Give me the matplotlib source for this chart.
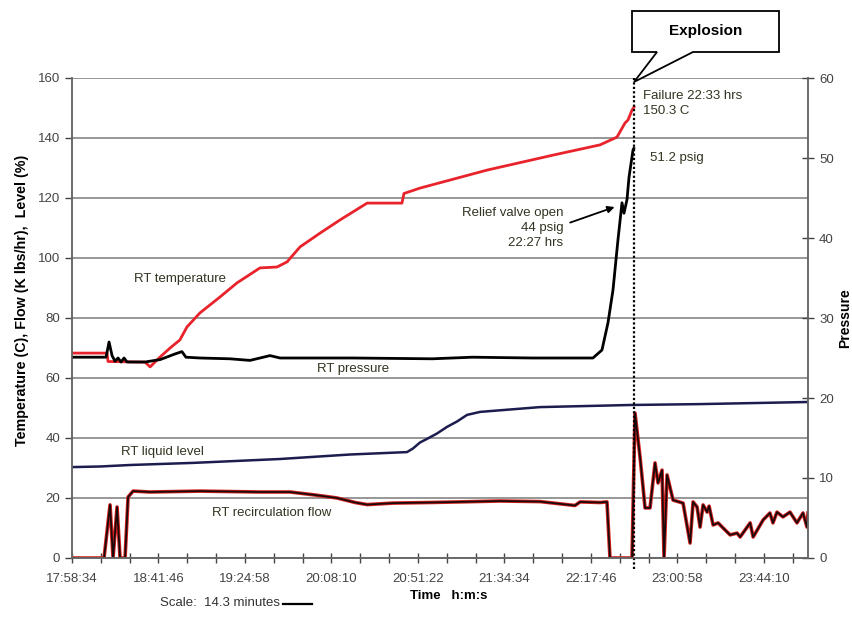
import matplotlib
matplotlib.use("Agg")
from matplotlib import pyplot as plt
from matplotlib.patches import Polygon
from matplotlib.lines import Line2D
import numpy as np

plt.rcParams["font.family"] = ["Liberation Sans", "DejaVu Sans"]

# time axis: minutes after 17:58:34
START = 17 * 3600 + 58 * 60 + 34
TICK_STEP = 14.4
X_MAX = 367.6
FAILURE_T = 280.7

# RT temperature (C), left axis
temp_t = [0, 17.5, 18.0, 36.5, 39.0, 44.0, 49.0, 53.9, 57.4, 63.9, 73.9, 82.4,
          93.9, 102.4, 107.4, 113.9, 123.9, 133.9, 147.4, 164.8, 165.8, 173.8,
          207.3, 240.3, 263.7, 272.2, 276.2, 277.7, 279.7, 280.7]
temp_v = [68.3, 68.3, 65.5, 65.3, 63.7, 67.0, 70.0, 72.7, 77.0, 81.7, 87.0, 91.7,
          96.7, 97.0, 98.7, 103.7, 108.3, 112.7, 118.3, 118.3, 121.5, 123.3,
          129.3, 134.3, 137.7, 140.3, 145.0, 146.0, 149.3, 150.3]

# RT pressure (psig), right axis
pres_t = [0, 17.0, 18.5, 20.0, 21.5, 23.0, 24.5, 26.0, 27.5, 36.5, 44.0, 51.4,
          54.9, 56.9, 63.9, 78.9, 88.9, 98.9, 103.9, 140.0, 180.0, 200.0, 230.0,
          260.2, 264.7, 267.7, 270.2, 272.7, 274.7, 275.7, 277.2, 278.2, 280.2,
          280.6]
pres_v = [25.1, 25.1, 27.0, 25.3, 24.6, 25.0, 24.5, 25.0, 24.5, 24.5, 24.8, 25.5,
          25.8, 25.1, 25.0, 24.9, 24.7, 25.3, 25.0, 25.0, 24.9, 25.1, 25.0,
          25.0, 26.0, 29.4, 33.5, 39.8, 44.4, 43.1, 44.8, 47.6, 51.0,
          51.2]

# RT liquid level (%), left axis
level_t = [0, 14, 29, 60.4, 103.9, 138.9, 167.3, 170.3, 173.8, 177.3, 182.3,
           187.3, 192.3, 197.3, 203.8, 233.8, 278.7, 313.7, 367.6]
level_v = [30.3, 30.5, 31.0, 31.7, 33.0, 34.5, 35.3, 36.5, 38.5, 39.7, 41.5,
           43.7, 45.5, 47.7, 48.7, 50.3, 51.0, 51.3, 52.0]

# RT recirculation flow (K lbs/hr), left axis
flow_t = [0, 16.0, 19.0, 20.5, 22.5, 24.0, 26.5, 28.0, 30.5, 39.0, 63.9, 93.9,
          108.9, 121.4, 132.4, 141.4, 147.4, 160.3, 178.8, 193.8, 213.8, 233.8,
          251.2, 253.8, 263.7, 267.2, 268.7, 279.7, 281.2, 283.7, 285.2, 286.2,
          288.7, 291.2, 292.7, 294.7, 295.7, 297.2, 300.2, 305.2, 308.7, 310.2,
          312.2, 313.7, 315.2, 317.2, 318.2, 320.2, 322.7, 325.2, 328.7, 332.2,
          333.7, 338.7, 340.2, 345.2, 348.6, 350.1, 352.1, 355.1, 358.6, 362.1,
          365.1, 367.1, 367.6]
flow_v = [0, 0, 17.7, 0, 17.0, 0, 0, 20.3, 22.3, 22.0, 22.3, 22.0,
          22.0, 21.0, 20.0, 18.5, 17.8, 18.3, 18.5, 18.7, 19.0, 18.8,
          17.5, 18.7, 18.5, 18.7, 0, 0, 48.3, 33.7, 23.7, 16.7,
          16.7, 31.7, 25.0, 29.3, 0, 27.7, 19.3, 18.3, 5.0, 18.7,
          17.0, 10.3, 17.7, 15.3, 17.3, 11.0, 11.7, 10.0, 7.7, 8.3,
          7.0, 11.7, 7.0, 12.7, 15.0, 11.7, 15.3, 13.7, 15.3, 11.7,
          15.0, 10.3, 15.0]


def hms(minutes):
    s = int(round(START + minutes * 60))
    return "%d:%02d:%02d" % (s // 3600, s % 3600 // 60, s % 60)


fig = plt.figure(figsize=(8.53, 6.17), dpi=100)
ax = fig.add_axes([72 / 853, 1 - 558 / 617, 736 / 853, 480 / 617])
ax2 = ax.twinx()

ax.set_xlim(0, X_MAX)
ax.set_ylim(0, 160)
ax2.set_ylim(0, 60)

ax.set_yticks(np.arange(0, 161, 20))
ax.grid(axis="y", color="#7a7a7a", linewidth=1.1)
ax.set_axisbelow(True)
ax2.set_yticks(np.arange(0, 61, 10))

ticks = np.arange(0, X_MAX, TICK_STEP)
ax.set_xticks(ticks)
ax.set_xticklabels([hms(t) if i % 3 == 0 else "" for i, t in enumerate(ticks)])

for a in (ax, ax2):
    a.spines["top"].set_visible(False)
    for side in ("left", "right", "bottom"):
        a.spines[side].set_color("#666666")
        a.spines[side].set_linewidth(1.1)
ax.tick_params(axis="y", direction="out", length=5, labelsize=9.5,
               colors="#444444", width=1)
ax.tick_params(axis="x", direction="inout", length=7, labelsize=9.5,
               colors="#444444", width=1, pad=7)
ax2.tick_params(axis="y", direction="inout", length=9, labelsize=9.5,
                colors="#444444", width=1)

# traces
ax.plot(temp_t, temp_v, color="#e8232b", linewidth=2)
ax2.plot(pres_t, pres_v, color="black", linewidth=2)
ax.plot(level_t, level_v, color="#1c1c4e", linewidth=1.8)
ax.plot(flow_t, flow_v, color="#d62020", linewidth=2.6)
ax.plot(flow_t, flow_v, color="#1a0a0a", linewidth=1.3)

# failure marker
ax.axvline(FAILURE_T, ymin=-0.022, ymax=1, color="black", linewidth=1.6,
           linestyle=(0, (1, 1)), clip_on=False, zorder=5)

# series labels
lab = dict(fontsize=9.5, color="#333322")
ax.text(54, 93, "RT temperature", ha="center", va="center", **lab)
ax.text(140.5, 63, "RT pressure", ha="center", va="center", **lab)
ax.text(45, 35.3, "RT liquid level", ha="center", va="center", **lab)
ax.text(99.5, 15, "RT recirculation flow", ha="center", va="center", **lab)
ax.text(245.3, 110, "Relief valve open\n44 psig\n22:27 hrs", ha="right",
        va="center", linespacing=1.35, **lab)
ax.annotate("", xy=(272.3, 117.3), xytext=(247.5, 111.5),
            arrowprops=dict(arrowstyle="-|>", color="black", lw=1.3,
                            mutation_scale=10))
ax.text(285, 151.5, "Failure 22:33 hrs\n150.3 C", ha="left", va="center",
        linespacing=1.35, **lab)
ax.text(288.5, 133.5, "51.2 psig", ha="left", va="center", **lab)

# explosion callout
px = [(632, 11), (779, 11), (779, 52), (693, 52), (634, 82), (657, 52), (632, 52)]
callout = Polygon([(x / 853, 1 - y / 617) for x, y in px], closed=True,
                  transform=fig.transFigure, facecolor="white",
                  edgecolor="black", linewidth=1.3)
fig.patches.append(callout)
fig.text(706 / 853, 1 - 31 / 617, "Explosion", ha="center", va="center",
         fontsize=11, fontweight="bold")

# axis titles
fig.text(22 / 853, 1 - 300 / 617, "Temperature (C), Flow (K lbs/hr),  Level (%)",
         rotation=90, ha="center", va="center", fontsize=10.3, fontweight="bold")
fig.text(845 / 853, 1 - 318 / 617, "Pressure", rotation=90, ha="center",
         va="center", fontsize=10, fontweight="bold")
fig.text(449 / 853, 1 - 596 / 617, "Time   h:m:s", ha="center", va="center",
         fontsize=9.5, fontweight="bold")
fig.text(160 / 853, 1 - 603 / 617, "Scale:  14.3 minutes", ha="left",
         va="center", fontsize=9.5, color="#333333")
fig.lines.append(Line2D([283 / 853, 312 / 853], [1 - 604 / 617, 1 - 604 / 617],
                        transform=fig.transFigure, color="black", linewidth=1.6))

fig.savefig("out.png", dpi=100)
